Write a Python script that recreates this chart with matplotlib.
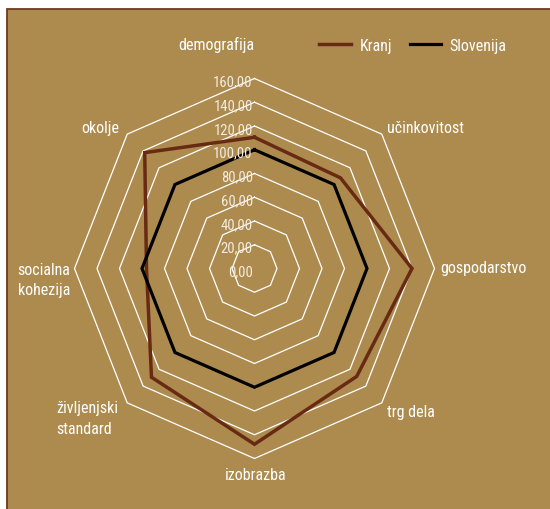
import numpy as np
import matplotlib
matplotlib.use("Agg")
import matplotlib.pyplot as plt
from matplotlib.patches import Rectangle
from matplotlib.lines import Line2D

plt.rcParams['font.family'] = ['Roboto Condensed', 'DejaVu Sans']

# podatki
categories = ['demografija', 'učinkovitost', 'gospodarstvo', 'trg dela',
              'izobrazba', 'življenjski\nstandard', 'socialna\nkohezija', 'okolje']
kranj = [110.5, 108, 140, 128.5, 148, 129.5, 96, 138]
slovenija = [100, 100, 100, 100, 100, 100, 100, 100]
ticks = [0, 20, 40, 60, 80, 100, 120, 140, 160]
tick_labels = ['0,00', '20,00', '40,00', '60,00', '80,00',
               '100,00', '120,00', '140,00', '160,00']

W, H = 550, 510
bg = '#ad8b4f'
kranj_color = '#682a12'

# geometrija (v pikslih)
cx, cy = 254.5, 240.5       # središče od spodaj
px_x, px_y = 180 / 160, 190 / 160

fig = plt.figure(figsize=(W / 100, H / 100), dpi=100)
fig.patch.set_facecolor('white')

ax = fig.add_axes([0, 0, 1, 1])
ax.set_xlim(-cx / px_x, (W - cx) / px_x)
ax.set_ylim(-cy / px_y, (H - cy) / px_y)
ax.axis('off')
ax.add_patch(Rectangle((7 / W, -0.01), 1, 1.01 - 10 / H, transform=fig.transFigure,
                       facecolor=bg, edgecolor='#6e3a1e', linewidth=1.3, zorder=0))

n = len(categories)
angles = np.arange(n) * 2 * np.pi / n


def polygon(values):
    v = np.asarray(values, dtype=float)
    x = v * np.sin(angles)
    y = v * np.cos(angles)
    return np.append(x, x[0]), np.append(y, y[0])


# mreža
for t in ticks[1:]:
    gx, gy = polygon([t] * n)
    ax.plot(gx, gy, color='white', lw=0.9, zorder=1)

for t, lab in zip(ticks, tick_labels):
    ax.text(-1.5, t - 2.5, lab, color='#f3ece0', fontsize=10.5,
            ha='right', va='center', zorder=4)

sx, sy = polygon(slovenija)
ax.plot(sx, sy, color='black', lw=2.3, zorder=3, solid_joinstyle='miter')
kx, ky = polygon(kranj)
ax.plot(kx, ky, color=kranj_color, lw=2.5, zorder=2, solid_joinstyle='miter')

# oznake kategorij (pozicije v pikslih)
label_pos = [(216.7, 465, 'center'), (387, 382, 'left'), (440, 242, 'left'),
             (387, 97, 'left'), (255.7, 34, 'center'), (56.7, 91, 'left'),
             (17.7, 229.5, 'left'), (100, 382, 'center')]
for lab, (lx, ly, ha) in zip(categories, label_pos):
    ax.text((lx - cx) / px_x, (ly - cy) / px_y, lab, color='white', fontsize=11.5,
            ha=ha, va='center', linespacing=1.45)

handles = [Line2D([], [], color=kranj_color, lw=2.5),
           Line2D([], [], color='black', lw=2.3)]
fig.legend(handles, ['Kranj', 'Slovenija'], loc='center left',
           bbox_to_anchor=(313 / W, 1 - 46 / H), ncol=2, frameon=False,
           handlelength=2.0, columnspacing=1.1, handletextpad=0.5,
           labelcolor='white', fontsize=11.5, borderaxespad=0)

fig.savefig('out.png', dpi=100, facecolor='white')
